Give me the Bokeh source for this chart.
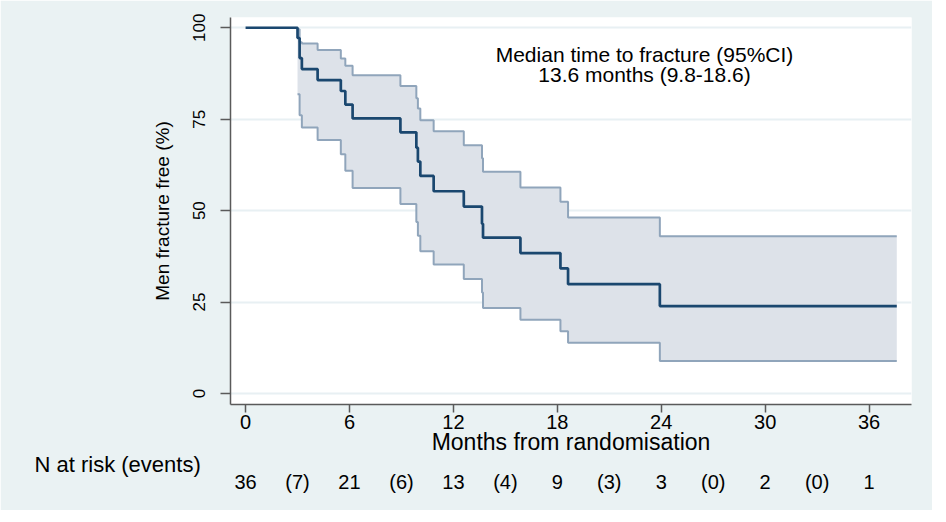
from bokeh.plotting import figure
from bokeh.models import Range1d, FixedTicker, LinearAxis, Label, Title
from bokeh.embed import file_html
from bokeh.resources import INLINE

# ---------------- data ----------------
event_months = [3.0, 3.12, 3.25, 4.16, 5.5, 5.76, 6.18, 8.94, 9.86, 9.95, 10.09,
                10.86, 12.6, 13.65, 13.71, 15.87, 18.18, 18.62, 23.92]
fracture_free = [97.2, 91.7, 88.7, 85.7, 82.7, 79.0, 75.2, 71.4, 67.2, 63.4, 59.5,
                 55.3, 51.1, 46.4, 42.6, 38.4, 34.2, 29.9, 23.9]
ci_upper = [99.6, 96.0, 95.7, 93.9, 91.6, 89.6, 87.0, 84.1, 80.7, 77.9, 74.7,
            71.7, 67.9, 64.3, 60.6, 56.3, 52.4, 48.1, 43.0]
ci_lower = [81.8, 76.1, 72.7, 69.3, 65.4, 60.9, 56.2, 51.8, 46.9, 43.1, 38.9,
            35.3, 31.3, 27.6, 23.4, 20.2, 17.0, 13.9, 8.9]
start_month = 0.0
start_value = 100.0
last_followup = 37.6

x_ticks = [0, 6, 12, 18, 24, 30, 36]
y_ticks = [0, 25, 50, 75, 100]

risk_months = [0, 6, 12, 18, 24, 30, 36]
n_at_risk = [36, 21, 13, 9, 3, 2, 1]
events_between = [7, 6, 4, 3, 0, 0]

x_title = "Months from randomisation"
y_title = "Men fracture free (%)"
risk_title = "N at risk (events)"
median_line1 = "Median time to fracture (95%CI)"
median_line2 = "13.6 months (9.8-18.6)"

# ---------------- styling ----------------
FONT = "Liberation Sans"
NAVY = "#1a476f"
CI_LINE = "#90a5bb"
CI_FILL = "#dde2e9"
PANEL = "#eaf2f3"
GRID = "#e8f0f3"
AXIS = "#5a5a5a"


def staircase(t, v, end):
    xs, ys = [], []
    for i in range(len(t)):
        nxt = t[i + 1] if i + 1 < len(t) else end
        xs += [t[i], nxt]
        ys += [v[i], v[i]]
    return xs, ys


p = figure(width=932, height=510, output_backend="svg", toolbar_location=None,
           x_range=Range1d(-0.87, 38.45), y_range=Range1d(-3, 102.8),
           min_border_left=230, min_border_right=21, min_border_top=17,
           min_border_bottom=106, background_fill_color="white",
           border_fill_color=PANEL, outline_line_color=None)

# confidence band
bx, bu = staircase(event_months, ci_upper, last_followup)
_, bl = staircase(event_months, ci_lower, last_followup)
p.varea(x=bx, y1=bl, y2=bu, fill_color=CI_FILL, fill_alpha=1.0)

p.step(x=event_months + [last_followup], y=ci_upper + [ci_upper[-1]], mode="after",
       line_color=CI_LINE, line_width=2)
p.step(x=event_months + [last_followup], y=ci_lower + [ci_lower[-1]], mode="after",
       line_color=CI_LINE, line_width=2)

# Kaplan-Meier curve
p.step(x=[start_month] + event_months + [last_followup],
       y=[start_value] + fracture_free + [fracture_free[-1]], mode="after",
       line_color=NAVY, line_width=2.7)

# grid
p.xgrid.visible = False
p.ygrid.ticker = FixedTicker(ticks=y_ticks)
p.ygrid.grid_line_color = GRID
p.ygrid.grid_line_width = 2

# x axis
xa = p.xaxis[0]
xa.ticker = FixedTicker(ticks=x_ticks)
xa.axis_label = x_title
xa.axis_line_color = AXIS
xa.axis_line_width = 1.5
xa.major_tick_line_color = AXIS
xa.major_tick_line_width = 1.5
xa.major_tick_out = 8
xa.major_tick_in = 0
xa.minor_tick_line_color = None
xa.major_label_text_font = FONT
xa.major_label_text_font_size = "20px"
xa.major_label_text_color = "black"
xa.major_label_standoff = 2
xa.axis_label_text_font = FONT
xa.axis_label_text_font_size = "23px"
xa.axis_label_text_font_style = "normal"
xa.axis_label_text_color = "black"
xa.axis_label_standoff = -3

# y axis
ya = p.yaxis[0]
ya.ticker = FixedTicker(ticks=y_ticks)
ya.axis_label = y_title
ya.axis_line_color = AXIS
ya.axis_line_width = 1.5
ya.major_tick_line_color = AXIS
ya.major_tick_line_width = 1.5
ya.major_tick_out = 10
ya.major_tick_in = 0
ya.minor_tick_line_color = None
ya.major_label_orientation = "vertical"
ya.major_label_text_font = FONT
ya.major_label_text_font_size = "17px"
ya.major_label_text_color = "black"
ya.major_label_standoff = 15
ya.axis_label_text_font = FONT
ya.axis_label_text_font_size = "19px"
ya.axis_label_text_font_style = "normal"
ya.axis_label_text_color = "black"
ya.axis_label_standoff = 18

# "N at risk (events)" heading, between the x axis and the risk row
p.add_layout(Title(text=risk_title, align="left", offset=-196, standoff=-15,
                   text_font=FONT, text_font_size="22px",
                   text_font_style="normal", text_color="black"), "below")

# number-at-risk row as an extra axis below
risk_ticks = []
risk_labels = {}
for i, m in enumerate(risk_months):
    risk_ticks.append(m)
    risk_labels[m] = str(n_at_risk[i])
    if i < len(events_between):
        mid = (risk_months[i] + risk_months[i + 1]) // 2
        risk_ticks.append(mid)
        risk_labels[mid] = "(%d)" % events_between[i]

risk_axis = LinearAxis(ticker=FixedTicker(ticks=risk_ticks),
                       major_label_overrides=risk_labels,
                       axis_line_color=None, major_tick_line_color=None,
                       minor_tick_line_color=None,
                       major_label_text_font=FONT,
                       major_label_text_font_size="20px",
                       major_label_text_color="black",
                       major_label_standoff=-5)
p.add_layout(risk_axis, "below")

# median annotation (screen units relative to the plot frame)
p.add_layout(Label(x=414, y=350, x_units="screen", y_units="screen",
                   text=median_line1, text_font=FONT, text_font_size="21px",
                   text_color="black", text_align="center",
                   text_baseline="alphabetic"))
p.add_layout(Label(x=414, y=330, x_units="screen", y_units="screen",
                   text=median_line2, text_font=FONT, text_font_size="21px",
                   text_color="black", text_align="center",
                   text_baseline="alphabetic"))

open("out.html", "w").write(file_html(p, INLINE))
